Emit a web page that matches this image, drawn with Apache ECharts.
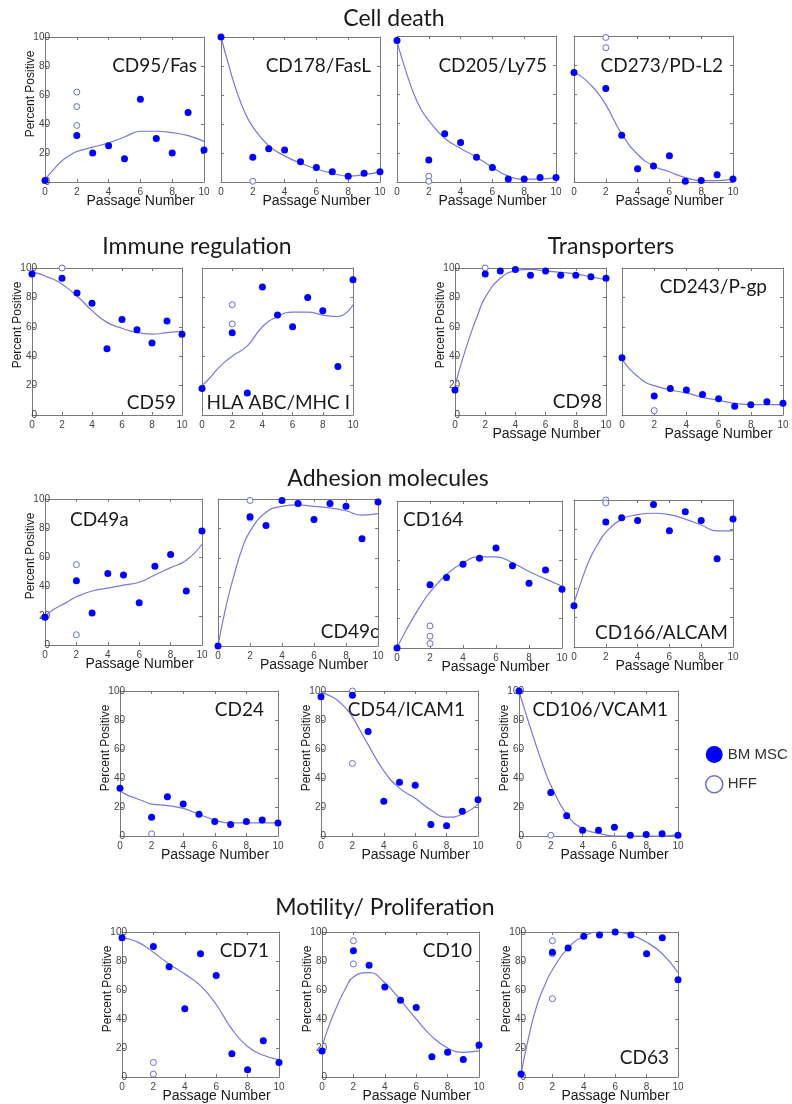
<!DOCTYPE html>
<html>
<head>
<meta charset="utf-8">
<script src="https://cdn.jsdelivr.net/npm/echarts@6/dist/echarts.min.js"></script>
<style>
  html, body { margin: 0; padding: 0; background: #fff; }
  #chart { width: 792px; height: 1104px; }
</style>
</head>
<body>
<div id="chart"></div>
<script>
const passages = [0, 2, 3, 4, 5, 6, 7, 8, 9, 10]
const fitPassages = [0, 0.5, 1, 1.5, 2, 3, 4, 5, 6, 7, 8, 9, 10]
const hffPassage = 2

// Cell death
const cd95Msc = [1, 32, 20, 25, 16, 57, 30, 20, 48, 22]
const cd95Hff = [62, 52, 39]
const cd95Fit = [2, 8, 14, 18, 21, 24, 27, 31, 35, 35, 34, 32, 28]
const cd178Msc = [100, 17, 23, 22, 14, 10, 7, 4, 6, 7]
const cd178Hff = [0.5]
const cd178Fit = [100, 80, 62, 48, 38, 25, 18, 13, 9, 6, 4, 5, 7]
const cd205Msc = [97, 15, 33, 27, 17, 10, 2, 2, 3, 3]
const cd205Hff = [4, 0.5]
const cd205Fit = [96, 78, 62, 50, 42, 30, 23, 17, 10, 4, 2, 2, 3]
const cd273Msc = [75, 64, 32, 9, 11, 18, 0.5, 1, 5, 2]
const cd273Hff = [99, 92]
const cd273Fit = [75, 72, 67, 61, 53, 33, 19, 11, 7, 3, 1, 1, 2]

// Immune regulation
const cd59Msc = [96, 93, 83, 76, 45, 65, 58, 49, 64, 55]
const cd59Hff = [100]
const cd59Fit = [97, 96, 94, 92, 89, 81, 71, 63, 59, 56, 55, 56, 57]
const hlaMsc = [18, 56, 15, 87, 68, 60, 80, 71, 33, 92]
const hlaHff = [75, 62]
const hlaFit = [20, 25, 31, 36, 40, 47, 60, 67, 70, 70, 68, 67, 75]

// Transporters
const cd98Msc = [17, 96, 98, 99, 95, 98, 95, 95, 94, 93]
const cd98Hff = [100]
const cd98Fit = [20, 38, 54, 68, 80, 93, 98, 99, 98, 97, 96, 94, 92]
const cd243Msc = [39, 13, 18, 17, 14, 11, 6, 7, 9, 8]
const cd243Hff = [3]
const cd243Fit = [38, 31, 26, 22, 20, 17, 15, 12, 10, 8, 7, 7, 7]

// Adhesion molecules
const cd49aMsc = [19, 44, 22, 49, 48, 29, 54, 62, 37, 78]
const cd49aHff = [55, 7]
const cd49aFit = [20, 24, 27, 30, 33, 37, 39, 41, 43, 48, 53, 58, 69]
const cd49cMsc = [0, 88, 82, 99, 97, 86, 97, 95, 73, 98]
const cd49cHff = [99, 87]
const cd49cFit = [0, 27, 48, 66, 78, 91, 95, 96, 95, 94, 92, 89, 90]
const cd164Msc = [0, 43, 48, 57, 61, 68, 56, 44, 53, 40]
const cd164Hff = [15, 8, 3]
const cd164Fit = [0, 11, 21, 30, 38, 50, 58, 62, 62, 58, 52, 47, 42]
const cd166Msc = [28, 85, 88, 86, 97, 79, 92, 86, 60, 87]
const cd166Hff = [100, 98]
const cd166Fit = [30, 46, 60, 70, 78, 87, 90, 91, 90, 87, 83, 79, 79]
const cd24Msc = [33, 13, 27, 22, 15, 10, 8, 10, 11, 9]
const cd24Hff = [1.5]
const cd24Fit = [31, 28, 26, 24, 22, 21, 19, 15, 11, 9, 9, 9, 9]
const cd54Msc = [96, 97, 72, 24, 37, 35, 8, 7, 17, 25]
const cd54Hff = [100, 50]
const cd54Fit = [99, 97, 94, 89, 82, 63, 45, 33, 26, 18, 13, 15, 22]
const cd106Msc = [100, 30, 14, 4, 4, 6, 0.5, 1, 1.5, 0.5]
const cd106Hff = [0.5]
const cd106Fit = [100, 82, 65, 49, 35, 15, 5, 2, 0, 0, 0, 0, 1]

// Motility / proliferation
const cd71Msc = [96, 90, 76, 47, 85, 70, 16, 5, 25, 10]
const cd71Hff = [10, 2]
const cd71Fit = [96, 95, 93, 90, 86, 78, 71, 63, 50, 33, 21, 15, 12]
const cd10Msc = [18, 87, 77, 62, 53, 48, 14, 17, 12, 22]
const cd10Hff = [94, 78]
const cd10Fit = [21, 37, 50, 61, 69, 72, 65, 53, 40, 28, 20, 17, 18]
const cd63Msc = [2, 86, 89, 97, 98, 100, 98, 85, 96, 67]
const cd63Hff = [94, 85, 54]
const cd63Fit = [2, 28, 49, 63, 74, 89, 97, 100, 100, 98, 93, 85, 72]

const sections = [
  ['Cell death', 394, 19],
  ['Immune regulation', 197, 247],
  ['Transporters', 611, 247],
  ['Adhesion molecules', 388, 479],
  ['Motility/ Proliferation', 385, 908]
]

// box = [left, top, width, height]; tag = [x, y, align]
const panels = [
  { label: 'CD95/Fas', msc: cd95Msc, hff: cd95Hff, fit: cd95Fit, box: [45, 37, 159, 145], yLab: true, tag: [197, 66, 'right'] },
  { label: 'CD178/FasL', msc: cd178Msc, hff: cd178Hff, fit: cd178Fit, box: [221, 37, 159, 145], tag: [371, 66, 'right'] },
  { label: 'CD205/Ly75', msc: cd205Msc, hff: cd205Hff, fit: cd205Fit, box: [397, 36, 159, 146], tag: [547, 66, 'right'] },
  { label: 'CD273/PD-L2', msc: cd273Msc, hff: cd273Hff, fit: cd273Fit, box: [574, 36, 159, 146], tag: [723, 66, 'right'] },
  { label: 'CD59', msc: cd59Msc, hff: cd59Hff, fit: cd59Fit, box: [32, 268, 150, 147], yLab: true, tag: [176, 403, 'right'], noName: true },
  { label: 'HLA ABC/MHC I', msc: hlaMsc, hff: hlaHff, fit: hlaFit, box: [202, 268, 151, 147], tag: [350, 403, 'right'], noName: true },
  { label: 'CD98', msc: cd98Msc, hff: cd98Hff, fit: cd98Fit, box: [455, 268, 151, 147], yLab: true, tag: [602, 402, 'right'] },
  { label: 'CD243/P-gp', msc: cd243Msc, hff: cd243Hff, fit: cd243Fit, box: [622, 268, 161, 147], tag: [767, 287, 'right'] },
  { label: 'CD49a', msc: cd49aMsc, hff: cd49aHff, fit: cd49aFit, box: [45, 499, 157, 146], yLab: true, tag: [70, 520, 'left'] },
  { label: 'CD49c', msc: cd49cMsc, hff: cd49cHff, fit: cd49cFit, box: [218, 499, 160, 147], tag: [379, 632, 'right'] },
  { label: 'CD164', msc: cd164Msc, hff: cd164Hff, fit: cd164Fit, box: [397, 501, 165, 147], tag: [403, 520, 'left'] },
  { label: 'CD166/ALCAM', msc: cd166Msc, hff: cd166Hff, fit: cd166Fit, box: [574, 500, 159, 147], tag: [728, 633, 'right'] },
  { label: 'CD24', msc: cd24Msc, hff: cd24Hff, fit: cd24Fit, box: [120, 691, 158, 145], yLab: true, tag: [264, 710, 'right'] },
  { label: 'CD54/ICAM1', msc: cd54Msc, hff: cd54Hff, fit: cd54Fit, box: [321, 691, 157, 145], yLab: true, tag: [465, 710, 'right'] },
  { label: 'CD106/VCAM1', msc: cd106Msc, hff: cd106Hff, fit: cd106Fit, box: [519, 691, 159, 145], yLab: true, tag: [668, 710, 'right'] },
  { label: 'CD71', msc: cd71Msc, hff: cd71Hff, fit: cd71Fit, box: [122, 932, 157, 145], yLab: true, tag: [269, 951, 'right'] },
  { label: 'CD10', msc: cd10Msc, hff: cd10Hff, fit: cd10Fit, box: [322, 932, 157, 145], yLab: true, tag: [472, 951, 'right'] },
  { label: 'CD63', msc: cd63Msc, hff: cd63Hff, fit: cd63Fit, box: [521, 932, 157, 145], yLab: true, tag: [669, 1058, 'right'] }
]

const frame = '#7a7a7a'
const dotColor = '#0000ff'
const ringColor = '#6b6bd6'
const fitColor = '#7878e0'
const axisFont = 'Liberation Sans'
const tagFont = 'Lato'

const grid = []
const xAxis = []
const yAxis = []
const series = []
const graphic = []

const edge = (gridIndex, position, isX, labels) => ({
  gridIndex,
  type: 'value',
  position,
  min: 0,
  max: isX ? 10 : 100,
  interval: isX ? 2 : 20,
  axisLine: { show: true, onZero: false, lineStyle: { color: frame, width: 1 } },
  axisTick: { show: true, inside: true, length: 3, lineStyle: { color: frame } },
  axisLabel: labels
    ? { show: true, fontSize: 10, color: '#444', fontFamily: axisFont, margin: isX ? 5 : -5 }
    : { show: false },
  splitLine: { show: false }
})

const text = (str, x, y, font, align, extra) => ({
  type: 'text',
  x, y,
  silent: true,
  ...extra,
  style: {
    text: str, font, fill: '#1a1a1a',
    align, textAlign: align,
    verticalAlign: 'middle', textVerticalAlign: 'middle'
  }
})

panels.forEach((p, i) => {
  const [left, top, width, height] = p.box
  grid.push({ left, top, width, height })
  xAxis.push(edge(i, 'bottom', true, true), edge(i, 'top', true, false))
  yAxis.push(edge(i, 'left', false, !!p.yLab), edge(i, 'right', false, false))

  series.push({
    type: 'line',
    name: 'fit',
    xAxisIndex: 2 * i,
    yAxisIndex: 2 * i,
    data: fitPassages.map((x, j) => [x, p.fit[j]]),
    smooth: true,
    showSymbol: false,
    silent: true,
    lineStyle: { color: fitColor, width: 1.2 },
    z: 2
  })
  series.push({
    type: 'scatter',
    name: 'HFF',
    xAxisIndex: 2 * i,
    yAxisIndex: 2 * i,
    data: p.hff.map(v => [hffPassage, v]),
    symbolSize: 6,
    itemStyle: { color: '#fff', borderColor: ringColor, borderWidth: 1, opacity: 1 },
    z: 3
  })
  series.push({
    type: 'scatter',
    name: 'BM MSC',
    xAxisIndex: 2 * i,
    yAxisIndex: 2 * i,
    data: passages.map((x, j) => [x, p.msc[j]]),
    symbolSize: 7,
    itemStyle: { color: dotColor, opacity: 1 },
    z: 4
  })

  graphic.push(text(p.label, p.tag[0], p.tag[1], '19px ' + tagFont, p.tag[2]))
  if (p.yLab) {
    graphic.push(text('Percent Positive', left - 14, top + 57, '12px ' + axisFont, 'center', { rotation: Math.PI / 2 }))
  }
  if (!p.noName) {
    graphic.push(text('Passage Number', left + width / 2 + 16, top + height + 19, '14px ' + axisFont, 'center'))
  }
})

sections.forEach(([str, x, y]) => {
  graphic.push(text(str, x, y, '23px ' + tagFont, 'center'))
})

const chart = echarts.init(document.getElementById('chart'))
chart.setOption({
  backgroundColor: '#fff',
  animation: false,
  grid,
  xAxis,
  yAxis,
  series,
  graphic,
  legend: {
    orient: 'vertical',
    left: 700,
    top: 741,
    itemWidth: 17,
    itemHeight: 17,
    itemGap: 12,
    selectedMode: false,
    textStyle: { fontSize: 15, fontFamily: axisFont, color: '#333' },
    data: [
      { name: 'BM MSC', icon: 'circle', itemStyle: { color: dotColor, opacity: 1 } },
      { name: 'HFF', icon: 'circle', itemStyle: { color: '#fff', borderColor: ringColor, borderWidth: 1.5, opacity: 1 } }
    ]
  }
})
window.addEventListener('resize', () => chart.resize())
</script>
</body>
</html>
